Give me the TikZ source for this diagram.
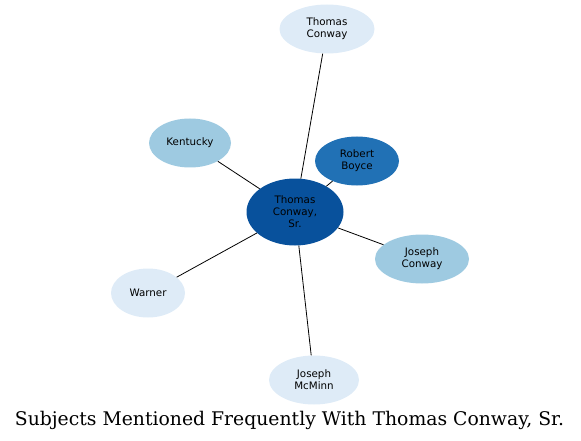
\documentclass[tikz,border=0pt]{standalone}
\usepackage{fontspec}
\newfontfamily\nodefont{DejaVu Sans}
\newfontfamily\titlefont{DejaVu Serif}
\usetikzlibrary{shapes.geometric}
\definecolor{cA}{HTML}{08519C}
\definecolor{cB}{HTML}{2171B5}
\definecolor{cC}{HTML}{9ECAE1}
\definecolor{cD}{HTML}{DEEBF7}
\begin{document}
\begin{tikzpicture}[x=1pt,y=-1pt,
  ent/.style={ellipse,draw=none,inner sep=0pt,align=center,
    font=\nodefont\fontsize{10.3}{12}\selectfont,text=black},
  link/.style={draw=black,line width=0.8pt}]
\useasboundingbox (0,0) rectangle (581,441);
\node[ent,fill=cA,minimum width=97,minimum height=67] (c) at (295,212) {Thomas\\Conway,\\Sr.};
\node[ent,fill=cD,minimum width=95,minimum height=49] (tc) at (327,29) {Thomas\\Conway};
\node[ent,fill=cB,minimum width=84,minimum height=49] (rb) at (357,161) {Robert\\Boyce};
\node[ent,fill=cC,minimum width=82,minimum height=49] (ky) at (190,143) {Kentucky};
\node[ent,fill=cC,minimum width=94,minimum height=49] (jc) at (422,259) {Joseph\\Conway};
\node[ent,fill=cD,minimum width=74,minimum height=49] (wa) at (148,293) {Warner};
\node[ent,fill=cD,minimum width=90,minimum height=49] (jm) at (314,380) {Joseph\\McMinn};
\draw[link] (c) -- (tc);
\draw[link] (c) -- (rb);
\draw[link] (c) -- (ky);
\draw[link] (c) -- (jc);
\draw[link] (c) -- (wa);
\draw[link] (c) -- (jm);
\node[font=\titlefont\fontsize{18.8}{22}\selectfont,inner sep=0pt] (title) at (289.5,420) {Subjects Mentioned Frequently With Thomas Conway, Sr.};
\end{tikzpicture}
\end{document}
